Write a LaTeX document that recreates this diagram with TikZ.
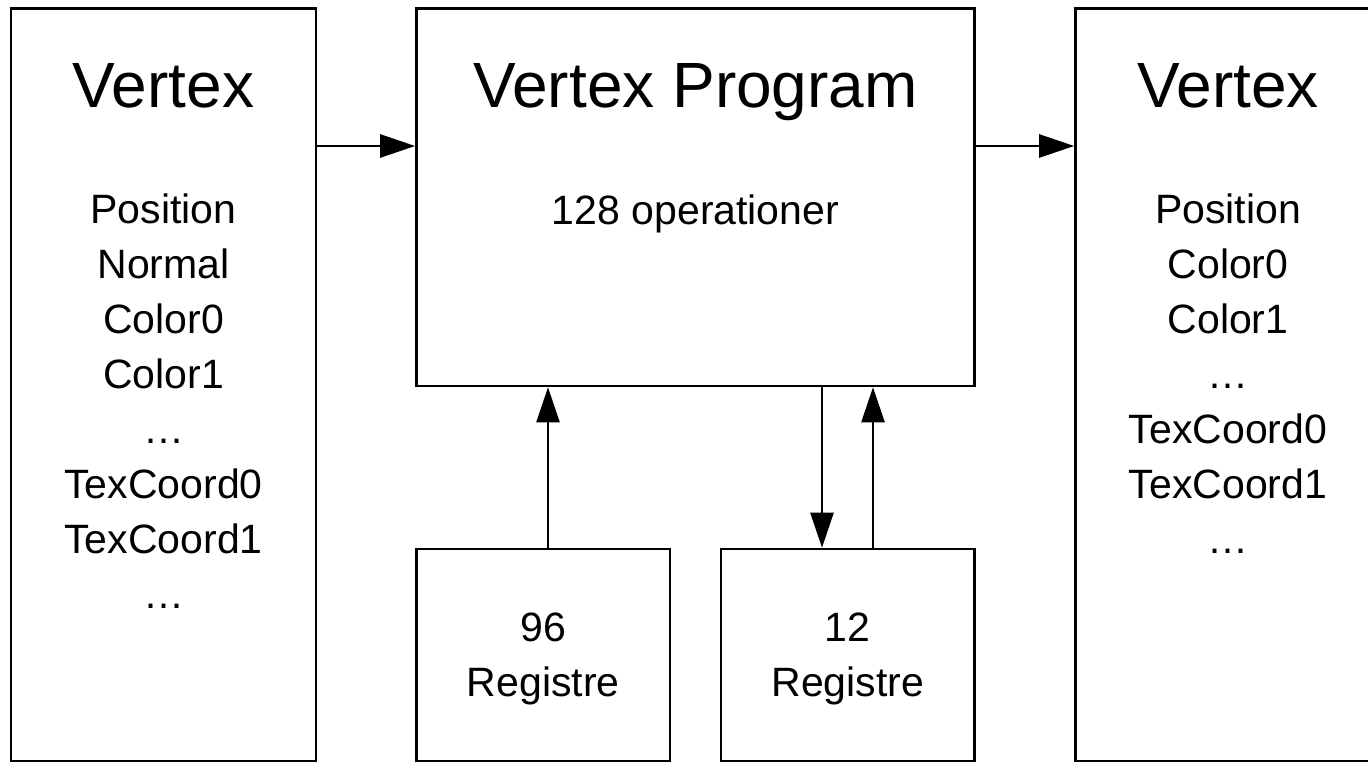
\documentclass[tikz,border=0pt]{standalone}
\usepackage{fontspec}
\setmainfont{Liberation Sans}
\usetikzlibrary{arrows.meta}
\begin{document}
\begin{tikzpicture}[x=1pt,y=-1pt,
  box/.style={draw, line width=2.6pt, inner sep=0pt},
  titletext/.style={font=\fontsize{64}{64}\selectfont, anchor=base, inner sep=0pt},
  bodytext/.style={font=\fontsize{41}{41}\selectfont, anchor=base, inner sep=0pt},
  arr/.style={line width=2.6pt, -{Triangle[length=35pt,width=23pt]}}]
\useasboundingbox (0,0) rectangle (1368,765);
\clip (0,0) rectangle (1368,765);
% boxes
\node[box, minimum width=305pt, minimum height=752.3pt] (vl) at (163.5,384.85) {};
\node[box, minimum width=558pt, minimum height=377.3pt] (vp) at (695.5,197.35) {};
\node[box, minimum width=253.5pt, minimum height=212pt] (r96) at (543.25,655) {};
\node[box, minimum width=253.5pt, minimum height=212pt] (r12) at (847.75,655) {};
\node[box, minimum width=324.5pt, minimum height=752.3pt] (vr) at (1237.75,384.85) {};
% titles
\node[titletext] (vlt) at (163.5,108) {Vertex};
\node[titletext] (vpt) at (695.5,108) {Vertex Program};
\node[titletext] (vrt) at (1228,108) {Vertex};
% body texts
\foreach \t [count=\i from 0] in {Position,Normal,Color0,Color1,…,TexCoord0,TexCoord1,…}
  \node[bodytext] (vlb\i) at (163.5,223+55*\i) {\t};
\foreach \t [count=\i from 0] in {Position,Color0,Color1,…,TexCoord0,TexCoord1,…}
  \node[bodytext] (vrb\i) at (1228,223+55*\i) {\t};
\node[bodytext] (vpb) at (695.5,224) {128 operationer};
\node[bodytext] (r96a) at (543.25,641.7) {96};
\node[bodytext] (r96b) at (543.25,696.7) {Registre};
\node[bodytext] (r12a) at (847.75,641.7) {12};
\node[bodytext] (r12b) at (847.75,696.7) {Registre};
% connectors
\coordinate (ya) at (0,146);
\coordinate (xa) at (548,0);
\coordinate (xb) at (822,0);
\coordinate (xc) at (873,0);
\draw[arr] (vl.east |- ya) -- (vp.west |- ya);
\draw[arr] (vp.east |- ya) -- (vr.west |- ya);
\draw[arr] (r96.north -| xa) -- (vp.south -| xa);
\draw[arr] (vp.south -| xb) -- (r12.north -| xb);
\draw[arr] (r12.north -| xc) -- (vp.south -| xc);
\end{tikzpicture}
\end{document}
